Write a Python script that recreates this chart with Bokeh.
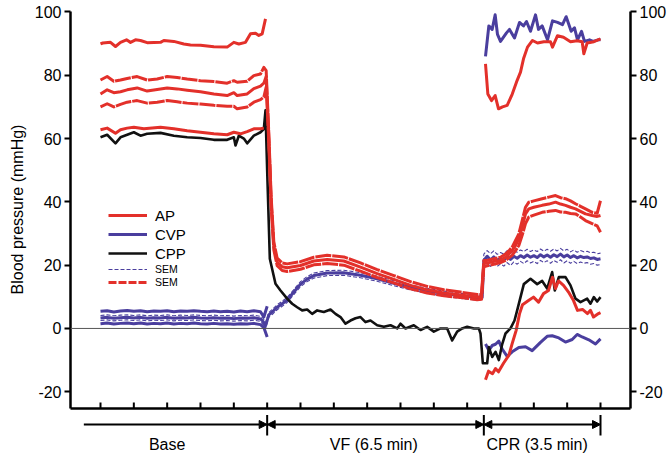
from bokeh.plotting import figure
from bokeh.layouts import column
from bokeh.models import (Range1d, LinearAxis, FixedTicker, Span, Arrow, NormalHead,
                          Legend, LegendItem)
from bokeh.core.properties import value
from bokeh.embed import file_html
from bokeh.resources import INLINE

# ---------------- data (time in minutes, pressure in mmHg) ----------------
y_ticks = [-20, 0, 20, 40, 60, 80, 100]
x_ticks = list(range(16))
phase_bounds = [5, 11.5, 15]
phase_start = -0.5
phase_labels = ["Base", "VF (6.5 min)", "CPR (3.5 min)"]
phase_label_t = [2.0, 8.2, 13.1]

# AP mean with +/- SEM (continuous through all phases)
ap_t = [0, 0.2, 0.4, 0.6, 0.8, 1.1, 1.4, 1.7, 2.0, 2.3, 2.6, 3.0, 3.4, 3.8, 4.0, 4.1, 4.4, 4.6, 4.8, 4.9, 4.97,
        5.05, 5.12, 5.2, 5.3, 5.45, 5.6, 6.0, 6.4, 6.8, 7.3, 7.8, 8.3, 8.8, 9.3, 9.8, 10.3, 10.8, 11.3, 11.43,
        11.5, 11.6, 11.8, 12.0, 12.15, 12.25, 12.35, 12.45, 12.55, 12.65, 12.75, 12.85, 13.0, 13.25, 13.45,
        13.65, 13.8, 13.95, 14.1, 14.25, 14.4, 14.55, 14.75, 14.9, 15.0]
ap_hi = [78.5, 79.6, 78.1, 78.5, 79.0, 79.6, 78.5, 78.8, 79.6, 79.3, 78.8, 78.3, 78.0, 77.5, 78.3, 77.8, 78.1, 79.9, 80.4, 82.5, 81.5,
         61.5, 41.5, 27.3, 22.2, 20.7, 20.4, 21.1, 22.5, 23.1, 22.6, 20.7, 18.6, 16.7, 14.8, 13.3, 12.2, 11.5, 10.7, 10.8,
         21.5, 21.5, 22.0, 22.5, 23.5, 24.5, 25.7, 27.8, 29.9, 34.1, 38.3, 39.9, 40.3, 41.0, 41.5,
         42.0, 41.3, 41.0, 40.3, 39.4, 38.6, 37.8, 36.7, 36.4, 40.4]
ap_mean = [74.1, 75.4, 74.5, 74.8, 75.4, 76.0, 75.0, 75.5, 76.0, 75.7, 75.3, 74.8, 74.1, 73.6, 74.5, 73.6, 74.1, 75.8, 76.6, 77.5, 79.6,
           60.0, 40.0, 26.0, 21.0, 19.5, 19.2, 19.9, 21.3, 21.8, 21.3, 19.4, 17.3, 15.5, 13.6, 12.2, 11.2, 10.6, 9.9, 10.0,
           20.5, 20.7, 21.2, 21.5, 22.5, 23.5, 24.6, 26.2, 28.3, 32.0, 36.2, 37.8, 38.3, 38.9, 39.3,
           39.9, 39.3, 38.9, 38.3, 37.8, 37.0, 36.2, 35.7, 35.4, 35.7]
ap_lo = [70.0, 71.0, 70.0, 70.8, 71.5, 72.0, 71.2, 71.5, 72.0, 71.6, 71.2, 70.9, 70.5, 70.2, 70.2, 69.4, 70.0, 71.5, 72.3, 73.1, 76.3,
         58.5, 38.5, 24.8, 19.8, 18.3, 18.0, 18.7, 20.1, 20.5, 20.0, 18.1, 16.1, 14.4, 12.5, 11.2, 10.3, 9.8, 9.1, 9.2,
         19.5, 19.8, 20.3, 20.8, 21.5, 22.3, 23.1, 24.6, 26.2, 29.4, 33.1, 35.2, 35.8, 36.7, 37.0,
         37.3, 36.8, 36.7, 36.3, 36.2, 35.2, 34.1, 33.1, 32.4, 30.4]

# AP systolic / diastolic (baseline and CPR only)
ap_sys_base_t = [0, 0.07, 0.3, 0.45, 0.6, 0.78, 0.9, 1.05, 1.2, 1.4, 1.8, 1.9, 2.2, 2.5, 2.7, 3.0, 3.4, 3.8,
                 4.0, 4.15, 4.35, 4.5, 4.65, 4.75, 4.85, 4.95]
ap_sys_base = [89.9, 90.2, 90.4, 89.1, 90.4, 91.2, 90.4, 91.2, 91.0, 90.3, 90.4, 91.0, 90.7, 89.9, 89.6, 89.5, 89.0, 88.9,
               90.4, 89.9, 90.4, 93.1, 93.3, 92.6, 93.1, 97.8]
ap_dia_base_t = [0, 0.2, 0.45, 0.6, 0.8, 1.0, 1.3, 1.8, 2.2, 2.6, 3.0, 3.4, 3.8, 4.0, 4.2, 4.4, 4.6, 4.8, 4.9]
ap_dia_base = [62.8, 63.3, 61.7, 62.8, 63.3, 63.6, 63.1, 63.6, 63.1, 62.5, 62.0, 61.5, 61.2, 62.0, 61.5, 62.2, 63.1, 63.1, 63.3]
ap_sys_cpr_t = [11.55, 11.62, 11.73, 11.84, 11.94, 12.06, 12.2, 12.35, 12.5, 12.6, 12.69, 12.81, 12.96, 13.11,
                13.3, 13.5, 13.56, 13.71, 13.89, 14.1, 14.3, 14.45, 14.5, 14.6, 14.8, 15.0]
ap_sys_cpr = [83.6, 74.1, 72.0, 73.6, 69.4, 70.0, 70.5, 74.0, 78.4, 81.0, 85.2, 88.9, 91.0, 90.2,
              90.6, 90.6, 88.9, 92.5, 92.0, 90.6, 90.9, 90.6, 86.8, 90.2, 90.6, 91.5]
ap_dia_cpr_t = [11.55, 11.64, 11.76, 11.85, 11.94, 12.09, 12.25, 12.35, 12.47, 12.57, 12.66, 12.84, 12.99, 13.14,
                13.29, 13.44, 13.56, 13.65, 13.74, 13.89, 14.04, 14.19, 14.31, 14.46, 14.61, 14.7, 14.79, 14.94, 15.0]
ap_dia_cpr = [-16.2, -13.5, -14.3, -12.7, -13.7, -11.0, -8.5, -4.8, -0.6, 4.6, 7.5, 8.8, 9.9, 8.3,
              11.0, 12.0, 16.2, 12.6, 15.0, 13.6, 11.5, 8.8, 5.7, 6.0, 4.7, 5.7, 3.6, 4.7, 5.0]

# CVP mean with +/- SEM (continuous)
cvp_t = [0, 0.2, 0.4, 0.6, 0.8, 1.0, 1.2, 1.4, 1.6, 1.8, 2.0, 2.2, 2.4, 2.6, 2.8, 3.0, 3.2, 3.4, 3.6, 3.8,
         4.0, 4.2, 4.4, 4.6, 4.8,
         4.88, 4.95, 5.05, 5.15, 5.3, 5.45, 5.6, 5.8, 6.0, 6.2, 6.4, 6.8, 7.3, 7.8, 8.3, 8.8, 9.3, 9.8, 10.3,
         10.8, 11.3, 11.45, 11.5,
         11.6, 11.7, 11.8, 11.9, 12.0, 12.1, 12.2, 12.3, 12.4, 12.5, 12.6, 12.7, 12.8, 12.9, 13.0, 13.1, 13.2,
         13.3, 13.4, 13.5, 13.6, 13.7, 13.8, 13.9, 14.0, 14.1, 14.2, 14.3, 14.4, 14.5, 14.6, 14.7, 14.8, 14.9, 15.0]
cvp_mean = [3.3, 3.5, 3.2, 3.4, 3.5, 3.3, 3.5, 3.2, 3.4, 3.3, 3.5, 3.2, 3.4, 3.3, 3.5, 3.3, 3.2, 3.4, 3.2, 3.3,
            3.1, 3.3, 3.2, 3.4, 3.0,
            2.2, 0.8, 4.3, 5.2, 6.7, 7.8, 9.0, 11.5, 14.0, 15.6, 16.7, 17.5, 17.6, 16.8, 15.7, 14.3, 13.0, 11.9, 11.0,
            10.3, 9.7, 9.8, 21.5,
            22.8, 21.6, 22.6, 21.5, 22.2, 21.6, 22.7, 21.8, 22.8, 22.2, 23.0, 22.4, 23.2, 22.5, 23.0, 22.4, 23.3,
            22.6, 23.2, 22.5, 23.3, 22.7, 23.5, 22.6, 23.2, 22.4, 23.0, 22.3, 22.8, 22.4, 22.6, 22.1, 22.3, 21.8, 22.0]
cvp_hi = [4.1, 4.3, 4.0, 4.2, 4.3, 4.1, 4.3, 4.0, 4.2, 4.1, 4.3, 4.0, 4.2, 4.1, 4.3, 4.1, 4.0, 4.2, 4.0, 4.1,
          3.9, 4.1, 4.0, 4.2, 3.8,
          3.2, 1.8, 5.0, 6.0, 7.5, 8.6, 9.8, 12.3, 14.8, 16.4, 17.5, 18.3, 18.4, 17.6, 16.5, 15.1, 13.8, 12.7, 11.8,
          11.1, 10.5, 10.6, 23.5,
          24.6, 23.6, 24.5, 23.4, 24.0, 23.5, 24.6, 23.7, 24.6, 24.1, 24.8, 24.3, 25.0, 24.3, 24.8, 24.3, 25.1,
          24.4, 25.0, 24.4, 25.1, 24.5, 25.3, 24.5, 25.0, 24.2, 24.8, 24.1, 24.6, 24.2, 24.4, 23.9, 24.1, 23.6, 23.8]
cvp_lo = [2.5, 2.7, 2.4, 2.6, 2.7, 2.5, 2.7, 2.4, 2.6, 2.5, 2.7, 2.4, 2.6, 2.5, 2.7, 2.5, 2.4, 2.6, 2.4, 2.5,
          2.3, 2.5, 2.4, 2.6, 2.2,
          1.2, -0.2, 3.6, 4.4, 5.9, 7.0, 8.2, 10.7, 13.2, 14.8, 15.9, 16.7, 16.8, 16.0, 14.9, 13.5, 12.2, 11.1, 10.2,
          9.5, 8.9, 9.0, 19.5,
          21.0, 19.6, 20.7, 19.6, 20.4, 19.7, 20.8, 19.9, 21.0, 20.3, 21.2, 20.5, 21.4, 20.7, 21.2, 20.5, 21.5,
          20.8, 21.4, 20.6, 21.5, 20.9, 21.7, 20.7, 21.4, 20.6, 21.2, 20.5, 21.0, 20.6, 20.8, 20.3, 20.5, 20.0, 20.2]

# CVP systolic / diastolic (baseline and CPR only)
cvp_base_t = [0, 0.2, 0.4, 0.6, 0.8, 1.0, 1.2, 1.4, 1.6, 1.8, 2.0, 2.2, 2.4, 2.6, 2.8, 3.0, 3.2, 3.4, 3.6, 3.8,
              4.0, 4.2, 4.4, 4.6, 4.8, 4.9, 5.0]
cvp_sys_base = [5.4, 5.6, 5.2, 5.5, 5.7, 5.4, 5.6, 5.3, 5.5, 5.4, 5.6, 5.3, 5.5, 5.4, 5.6, 5.4, 5.3, 5.5, 5.3, 5.4,
                5.2, 5.5, 5.3, 5.6, 5.3, 3.6, 7.0]
cvp_dia_base = [1.5, 1.7, 1.4, 1.6, 1.7, 1.5, 1.7, 1.4, 1.6, 1.5, 1.7, 1.4, 1.6, 1.5, 1.7, 1.5, 1.4, 1.6, 1.4, 1.5,
                1.3, 1.5, 1.4, 1.6, 1.2, 0.3, -2.7]
cvp_sys_cpr_t = [11.55, 11.65, 11.75, 11.84, 11.91, 12.0, 12.18, 12.27, 12.42, 12.57, 12.69, 12.78, 12.9, 13.05,
                 13.14, 13.25, 13.41, 13.56, 13.71, 13.86, 13.97, 14.12, 14.22, 14.31, 14.43, 14.52, 14.67, 14.78,
                 14.93, 15.0]
cvp_sys_cpr = [86.0, 95.6, 94.5, 99.1, 92.9, 90.7, 93.4, 94.5, 91.8, 96.7, 95.6, 97.0, 93.9, 99.1,
               94.5, 95.6, 91.2, 97.2, 96.7, 96.0, 98.5, 93.9, 95.0, 91.2, 93.9, 90.7, 91.2, 90.7,
               91.2, 91.2]
cvp_dia_cpr_t = [11.55, 11.65, 11.75, 11.85, 11.95, 12.05, 12.2, 12.35, 12.55, 12.75, 12.95, 13.2, 13.4, 13.55,
                 13.75, 13.95, 14.15, 14.3, 14.45, 14.65, 14.85, 15.0]
cvp_dia_cpr = [-4.9, -6.9, -5.4, -5.0, -4.0, -6.5, -8.8, -7.4, -6.0, -5.8, -7.0, -4.4, -2.5, -2.3,
               -3.0, -4.3, -3.5, -1.9, -2.7, -3.6, -4.9, -3.3]

# CPP
cpp_t = [0, 0.2, 0.45, 0.6, 0.8, 1.0, 1.2, 1.4, 1.8, 2.2, 2.6, 3.0, 3.4, 3.8, 4.0, 4.05, 4.15, 4.3, 4.4, 4.6,
         4.8, 4.9, 4.95, 5.0, 5.08, 5.25, 5.4, 5.6, 5.75, 5.9, 6.05, 6.2, 6.35, 6.5, 6.7, 6.9, 7.05, 7.2, 7.35, 7.5,
         7.65, 7.8, 7.95, 8.1, 8.3, 8.5, 8.7, 8.9, 9.0, 9.15, 9.4, 9.6, 9.8, 10.0, 10.2, 10.4, 10.55, 10.7, 10.85, 11.0,
         11.2, 11.35, 11.4, 11.47, 11.6, 11.65, 11.75, 11.85, 11.95, 12.05, 12.15, 12.3, 12.42, 12.5, 12.7, 12.9,
         13.1, 13.25, 13.4, 13.55, 13.63, 13.75, 13.95, 14.1, 14.25, 14.4, 14.6, 14.7, 14.8, 14.9, 15.0]
cpp = [60.4, 61.2, 58.5, 60.4, 61.2, 62.0, 60.9, 61.5, 61.8, 60.9, 60.4, 60.2, 59.6, 59.6, 60.4, 57.8, 60.9, 60.0, 58.5, 60.9,
       62.0, 63.0, 68.9, 50.0, 22.0, 14.1, 12.0, 9.4, 7.8, 6.7, 5.7, 6.0, 4.6, 5.7, 5.2, 6.0, 4.6, 3.6, 1.5, 2.5,
       3.2, 3.6, 2.0, 2.5, 1.0, 0.5, 1.0, 0.0, 1.5, 0.0, 1.0, -0.5, 0.5, -1.0, 0.0, 0.0, -3.8, -1.0, 0.0, 0.5,
       0.0, 0.0, -1.6, -11.0, -11.0, -5.9, -9.0, -7.4, -10.0, -5.0, -1.6, 0.0, 2.5, 5.7, 14.0, 15.7,
       14.0, 15.0, 12.6, 17.8, 12.0, 16.2, 16.2, 13.6, 9.4, 8.3, 9.4, 7.8, 9.9, 8.5, 9.9]

# ---------------- styling ----------------
RED = "#e3302a"
BLUE = "#4a3e9e"
BLACK = "#111111"
FONT = "Liberation Sans"
Y_AXIS_BOTTOM = -25.3
TICK_LEN = 1.9  # inward tick length on the time axis, in mmHg units

xr = Range1d(-0.9, 15.9)
p = figure(width=672, height=414, x_range=xr, y_range=Range1d(Y_AXIS_BOTTOM, 100.47),
           output_backend="svg", toolbar_location=None, x_axis_type=None, y_axis_type=None,
           min_border_left=70, min_border_right=42, min_border_top=10, min_border_bottom=6)
p.outline_line_color = None


def y_axis():
    ax = LinearAxis(ticker=FixedTicker(ticks=y_ticks, minor_ticks=[]), bounds=(Y_AXIS_BOTTOM, 100))
    ax.axis_line_width = 2.5
    ax.axis_line_color = "black"
    ax.major_tick_line_width = 2
    ax.major_tick_line_color = "black"
    ax.major_tick_out = 6
    ax.major_tick_in = 0
    ax.minor_tick_line_color = None
    ax.major_label_text_font = FONT
    ax.major_label_text_font_size = "16px"
    ax.major_label_text_color = "black"
    ax.major_label_standoff = 3
    ax.major_label_overrides = {t: str(t) for t in y_ticks}
    return ax


left = y_axis()
left.axis_label = "Blood pressure (mmHg)"
left.axis_label_text_font = FONT
left.axis_label_text_font_size = "16px"
left.axis_label_text_font_style = "normal"
left.axis_label_text_color = "black"
left.axis_label_standoff = 6
p.add_layout(left, "left")
right = y_axis()
p.add_layout(right, "right")

# time axis: line from the library axis, inward ticks drawn on the time scale
bottom = LinearAxis(ticker=FixedTicker(ticks=[], minor_ticks=[]))
bottom.axis_line_width = 2.5
bottom.axis_line_color = "black"
bottom.major_tick_line_color = None
bottom.minor_tick_line_color = None
p.add_layout(bottom, "below")
p.segment(x0=x_ticks, y0=[Y_AXIS_BOTTOM] * len(x_ticks), x1=x_ticks,
          y1=[Y_AXIS_BOTTOM + TICK_LEN] * len(x_ticks), line_color="black", line_width=2)

p.add_layout(Span(location=0, dimension="width", line_color="#555555", line_width=1))


def ln(t, v, color, width=3.0, dash="solid"):
    return p.line(t, v, line_color=color, line_width=width, line_dash=dash, line_join="round")


# CVP
r_cvp_hi = ln(cvp_t, cvp_hi, BLUE, 1.1, "4 2")
ln(cvp_t, cvp_lo, BLUE, 1.1, "4 2")
r_cvp = ln(cvp_t, cvp_mean, BLUE, 3)
ln(cvp_base_t, cvp_sys_base, BLUE, 3)
ln(cvp_base_t, cvp_dia_base, BLUE, 3)
ln(cvp_sys_cpr_t, cvp_sys_cpr, BLUE, 3)
ln(cvp_dia_cpr_t, cvp_dia_cpr, BLUE, 3)

# CPP
r_cpp = ln(cpp_t, cpp, BLACK, 2.6)

# AP
ln(ap_t, ap_hi, RED, 3, "16 1")
ln(ap_t, ap_lo, RED, 3, "16 1")
r_ap = ln(ap_t, ap_mean, RED, 3)
ln(ap_sys_base_t, ap_sys_base, RED, 3)
ln(ap_dia_base_t, ap_dia_base, RED, 3)
ln(ap_sys_cpr_t, ap_sys_cpr, RED, 3)
ln(ap_dia_cpr_t, ap_dia_cpr, RED, 3)
# legend key for the red SEM style (a single undefined point, nothing drawn in the plot)
r_ap_sem_key = p.line([float("nan")], [float("nan")], line_color=RED, line_width=3, line_dash="8 2")

common = dict(glyph_width=39, spacing=1, label_standoff=8, padding=0, margin=0,
              border_line_color=None, background_fill_alpha=0, label_text_font=FONT,
              label_text_color="black")
leg1 = Legend(items=[LegendItem(label="AP", renderers=[r_ap]),
                     LegendItem(label="CVP", renderers=[r_cvp]),
                     LegendItem(label="CPP", renderers=[r_cpp])],
              location=(38, 146), glyph_height=18, label_height=18, label_text_font_size="15px", **common)
leg2 = Legend(items=[LegendItem(label="SEM", renderers=[r_cvp_hi]),
                     LegendItem(label="SEM", renderers=[r_ap_sem_key])],
              location=(38, 120), glyph_height=12, label_height=12, label_text_font_size="10.5px", **common)
p.add_layout(leg1)
p.add_layout(leg2)

# ---------------- phase annotation strip ----------------
q = figure(width=672, height=44, x_range=xr, y_range=Range1d(0, 44),
           output_backend="svg", toolbar_location=None, x_axis_type=None, y_axis_type=None,
           min_border_left=70, min_border_right=42, min_border_top=0, min_border_bottom=0)
q.outline_line_color = None

ARROW_Y = 34
starts = [phase_start] + phase_bounds[:-1]
for i, (a, b) in enumerate(zip(starts, phase_bounds)):
    head_end = NormalHead(size=8, fill_color="black", line_color="black", line_width=1)
    head_start = None if i == 0 else NormalHead(size=8, fill_color="black", line_color="black", line_width=1)
    q.add_layout(Arrow(start=head_start, end=head_end, x_start=a, y_start=ARROW_Y, x_end=b, y_end=ARROW_Y,
                       line_width=2, line_color="black"))
q.segment(x0=phase_bounds, y0=[23] * len(phase_bounds), x1=phase_bounds, y1=[43.5] * len(phase_bounds),
          line_color="black", line_width=2)
q.text(x=phase_label_t, y=[14] * len(phase_labels), text=phase_labels, text_font=value(FONT),
       text_font_size=value("16px"), text_align="center", text_baseline="middle", text_color="black")

layout = column(p, q, spacing=0)
open("out.html", "w").write(file_html(layout, INLINE))
